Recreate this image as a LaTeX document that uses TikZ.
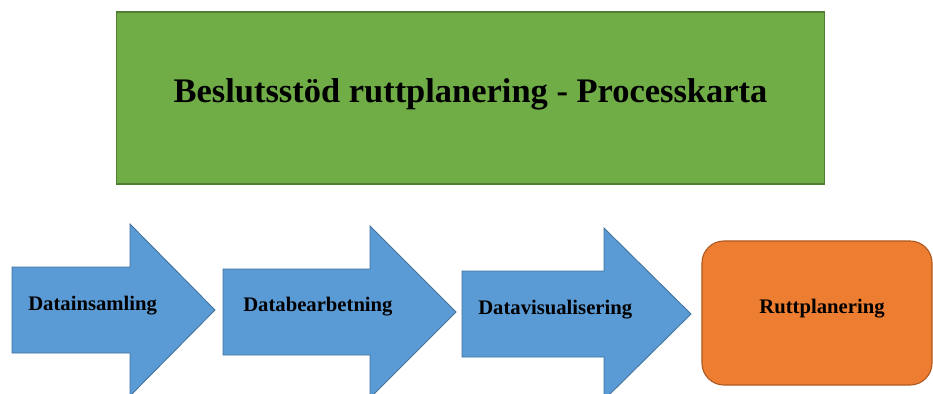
\documentclass[tikz,border=0pt]{standalone}
\usepackage{fontspec}
\setmainfont{Liberation Serif}
\usetikzlibrary{positioning}

\definecolor{titlegreen}{HTML}{70AD47}
\definecolor{titleedge}{HTML}{507E32}
\definecolor{stepblue}{HTML}{5B9BD5}
\definecolor{stepedge}{HTML}{41719C}
\definecolor{routeorange}{HTML}{ED7D31}
\definecolor{routeedge}{HTML}{AE5A21}

\begin{document}
\begin{tikzpicture}[
  x=0.025cm, y=-0.025cm,
  titlebox/.style={rectangle, draw=titleedge, fill=titlegreen, line width=0.8pt,
                   minimum width=17.675cm, minimum height=4.3cm, inner sep=0pt},
  titletext/.style={font=\fontsize{24.5}{28}\selectfont\bfseries, inner sep=0pt},
  procarrow/.style={draw=stepedge, fill=stepblue, line width=0.6pt},
  routebox/.style={rectangle, draw=routeedge, fill=routeorange, line width=0.8pt,
                   rounded corners=0.55cm, minimum width=5.75cm,
                   minimum height=3.6cm, inner sep=0pt},
  lbl/.style={font=\fontsize{14.7}{17}\selectfont\bfseries, inner sep=0pt}
]
\useasboundingbox (0,0) rectangle (933,394);

% title
\node[titlebox] (title) at (470.5,98) {};
\node[titletext, anchor=base] (titlelbl) at (470.5,102)
  {Beslutsstöd ruttplanering - Processkarta};

% process arrows: start x / centre y / head start / tip
\foreach \xs/\yc/\xh/\xt in {12/310/130/215, 223/312/370/456, 462/314/604/691}
  \draw[procarrow] (\xs,\yc-43) -- (\xh,\yc-43) -- (\xh,\yc-86) -- (\xt,\yc)
    -- (\xh,\yc+86) -- (\xh,\yc+43) -- (\xs,\yc+43) -- cycle;

\node[lbl, anchor=base west] (insamling)  at (28,310)  {Datainsamling};
\node[lbl, anchor=base west] (bearbetning) at (243,311) {Databearbetning};
\node[lbl, anchor=base west] (visualisering) at (478,314) {Datavisualisering};

% result
\node[routebox] (rutt) at (817,313) {};
\node[lbl, anchor=base] (ruttlbl) at (822,313) {Ruttplanering};

\end{tikzpicture}
\end{document}
